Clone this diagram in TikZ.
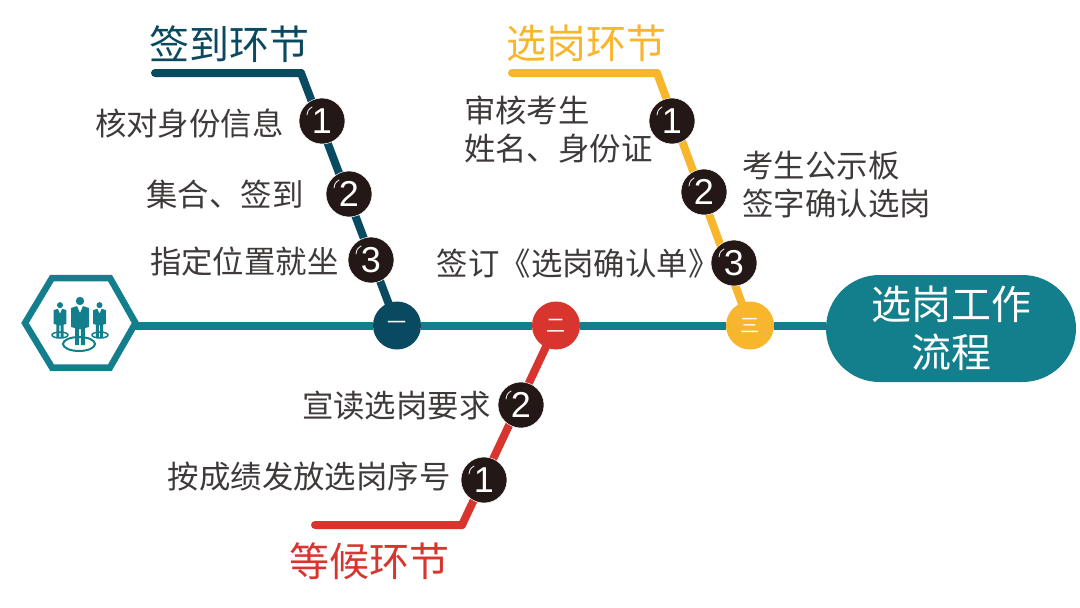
\documentclass[tikz,border=0pt]{standalone}
\usepackage{fontspec}
\setmainfont{Noto Sans CJK SC}
\newfontfamily\digitfont{Liberation Sans}
\usetikzlibrary{positioning,backgrounds,shapes.misc}
\definecolor{spineteal}{HTML}{137F8C}
\definecolor{signblue}{HTML}{0A4A60}
\definecolor{pickyellow}{HTML}{F8B62D}
\definecolor{waitred}{HTML}{D9352F}
\definecolor{badgeblack}{HTML}{231815}
\definecolor{textgrey}{HTML}{3E3A39}
\tikzset{
  steptext/.style={text=textgrey,font=\fontsize{31.4}{38}\selectfont,align=left,inner sep=0pt},
  headtext/.style={font=\fontsize{40}{46}\selectfont,inner sep=0pt},
  badge/.style={circle,fill=badgeblack,draw=white,line width=0.5pt,minimum size=46pt,inner sep=0pt,text=white,font=\digitfont\fontsize{36}{36}\selectfont},
  junction/.style={circle,minimum size=48pt,inner sep=0pt,text=white,font=\fontsize{19}{19}\selectfont},
  branch/.style={line width=8pt,line join=round},
  glint/.style={white,line width=0.8pt,line cap=round},
  person/.pic={
    \fill (0,-22) circle (4.2);
    \fill (-9,-15) -- (-3,-17) -- (0,-10) -- (3,-17) -- (9,-15) -- (9,4) -- (5,5) -- (5,22) -- (0.8,22) -- (0.8,6) -- (-0.8,6) -- (-0.8,22) -- (-5,22) -- (-5,5) -- (-9,4) -- cycle;
  }
}
\newcommand{\stepbadge}[3]{%
  \node[badge] (#1) at (#2) {#3};
  \draw[glint] ([shift={(-15,-6)}]#1.center) .. controls ([shift={(-14,-11)}]#1.center) .. ([shift={(-10,-14)}]#1.center);
}
\begin{document}
\begin{tikzpicture}[x=1pt,y=-1pt]
    \useasboundingbox (0,0) rectangle (1080,608);
    % nodes on the spine
    \coordinate (hexL) at (25,323);
    \coordinate (hexTL) at (52,278);
    \coordinate (hexTR) at (110,278);
    \coordinate (hexR) at (135.5,323);
    \coordinate (hexBR) at (110,367.5);
    \coordinate (hexBL) at (52,367.5);
    \coordinate (hexSpine) at (135,325.5);
    \node[junction,fill=signblue] (junA) at (397,325.5) {一};
    \node[junction,fill=waitred] (junB) at (556,325.5) {二};
    \node[junction,fill=pickyellow] (junC) at (750,325.5) {三};
    \node[rounded rectangle,fill=spineteal,minimum width=250pt,minimum height=107pt,inner sep=0pt,text=white,align=center,font=\fontsize{40}{48}\selectfont] (flow) at (951,328.5) {选岗工作\\流程};
    \draw[spineteal,line width=6.5pt,line join=miter] (hexL) -- (hexTL) -- (hexTR) -- (hexR) -- (hexBR) -- (hexBL) -- cycle;
    % icon
    \begin{scope}[spineteal]
        \draw[line width=1.5pt] (60,335) ellipse (8 and 3);
        \draw[line width=1.5pt] (100,335) ellipse (8 and 3);
        \draw[line width=2pt] (79,344) ellipse (16 and 7);
        \pic[scale=0.72] at (60,321) {person};
        \pic[scale=0.72] at (99.5,321) {person};
        \pic at (80,323) {person};
    \end{scope}
    % badges
    \stepbadge{signA}{322,121}{1}
    \stepbadge{signB}{349,194}{2}
    \stepbadge{signC}{371,260}{3}
    \stepbadge{pickA}{672,121}{1}
    \stepbadge{pickB}{704,192}{2}
    \stepbadge{pickC}{734,263}{3}
    \stepbadge{waitB}{521,405}{2}
    \stepbadge{waitA}{484,480}{1}
    % corners and free ends
    \coordinate (signEnd) at (155,73);
    \coordinate (signBend) at (301,73);
    \coordinate (pickEnd) at (512,73);
    \coordinate (pickBend) at (657,73);
    \coordinate (waitEnd) at (315,525);
    \coordinate (waitBend) at (462,525);
    \begin{scope}[on background layer]
        \draw[spineteal,line width=8pt] (hexSpine) -- (junA) -- (junB) -- (junC) -- (junC -| flow.west);
        \draw[branch,signblue] (junA.center) -- (signBend) -- (signEnd);
        \draw[branch,signblue,line cap=round] (signBend) -- (signEnd);
        \draw[branch,pickyellow] (junC.center) -- (pickBend) -- (pickEnd);
        \draw[branch,pickyellow,line cap=round] (pickBend) -- (pickEnd);
        \draw[branch,waitred] (junB.center) -- (waitBend) -- (waitEnd);
        \draw[branch,waitred,line cap=round] (waitBend) -- (waitEnd);
    \end{scope}
    % headings
    \node[headtext,text=signblue] (signHead) at (229,44) {签到环节};
    \node[headtext,text=pickyellow] (pickHead) at (586,43) {选岗环节};
    \node[headtext,text=waitred] (waitHead) at (369,561) {等候环节};
    % step labels
    \node[steptext,left=15pt of signA,yshift=-3pt] (signTextA) {核对身份信息};
    \node[steptext,left=22pt of signB] (signTextB) {集合、签到};
    \node[steptext,left=9pt of signC,yshift=-2pt] (signTextC) {指定位置就坐};
    \node[steptext,left=-4pt of pickA,yshift=-9pt] (pickTextA) {审核考生\\姓名、身份证};
    \node[steptext,right=15pt of pickB,yshift=7pt] (pickTextB) {考生公示板\\签字确认选岗};
    \node[steptext,left=-9pt of pickC,yshift=-1pt] (pickTextC) {签订《选岗确认单》};
    \node[steptext,left=7pt of waitB,yshift=-1pt] (waitTextB) {宣读选岗要求};
    \node[steptext,left=10pt of waitA,yshift=3pt] (waitTextA) {按成绩发放选岗序号};
\end{tikzpicture}
\end{document}
